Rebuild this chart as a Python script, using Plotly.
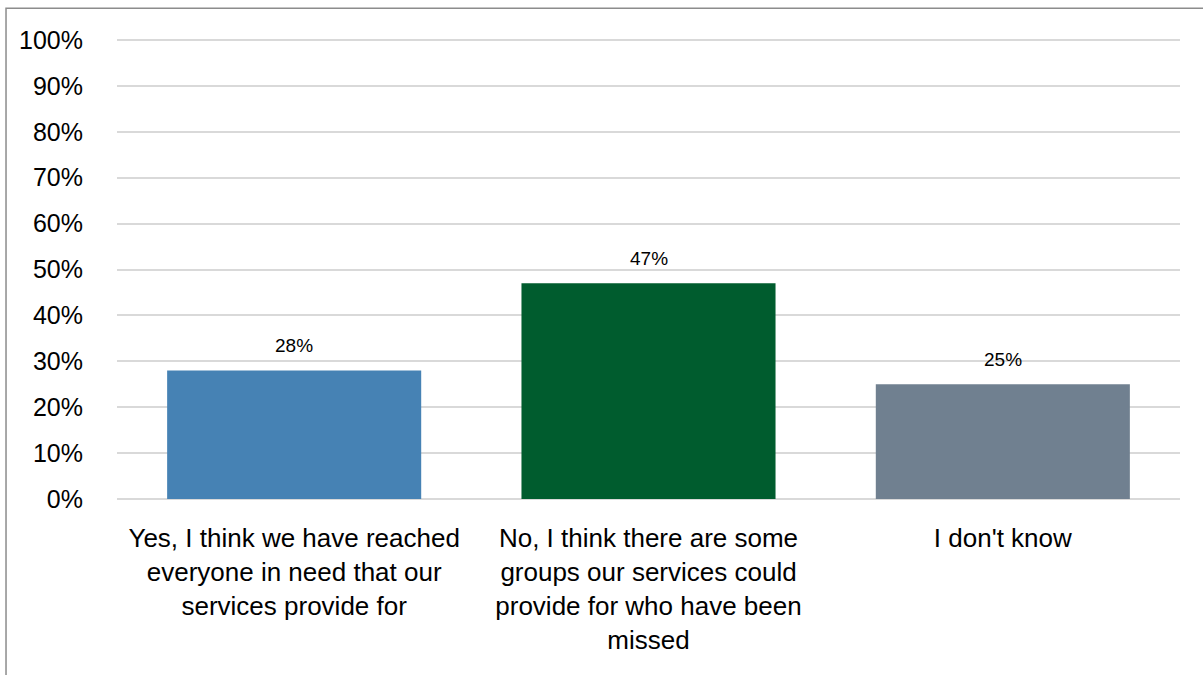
import plotly.graph_objects as go

categories = [
    "Yes, I think we have reached<br>everyone in need that our<br>services provide for",
    "No, I think there are some<br>groups our services could<br>provide for who have been<br>missed",
    "I don't know",
]
values = [28, 47, 25]
bar_colors = ["#4682B4", "#005C2E", "#708090"]
y_ticks = list(range(0, 101, 10))
y_tick_labels = [f"{v}%" for v in y_ticks]

FONT = "Liberation Sans"

fig = go.Figure(
    go.Bar(
        x=categories,
        y=values,
        marker=dict(color=bar_colors, line=dict(width=0)),
        width=0.717,
        hoverinfo="skip",
    )
)

# value labels floating above each bar
for cat, val in zip(categories, values):
    fig.add_annotation(
        x=cat,
        y=val,
        text=f"{val}%",
        showarrow=False,
        yshift=25,
        font=dict(family=FONT, size=19, color="#000000"),
    )

fig.update_layout(
    width=1203,
    height=675,
    margin=dict(l=117, r=23, t=38, b=174),
    paper_bgcolor="white",
    plot_bgcolor="white",
    showlegend=False,
    bargap=0.283,
    font=dict(family=FONT, color="#000000"),
    xaxis=dict(
        type="category",
        showgrid=False,
        showline=False,
        zeroline=False,
        tickfont=dict(family=FONT, size=26, color="#000000"),
        ticks="outside",
        ticklen=14,
        tickcolor="rgba(0,0,0,0)",
    ),
    yaxis=dict(
        range=[-0.45, 100.45],
        tickvals=y_ticks,
        ticktext=y_tick_labels,
        showgrid=True,
        gridcolor="#D9D9D9",
        gridwidth=2,
        zeroline=False,
        showline=False,
        tickfont=dict(family=FONT, size=25, color="#000000"),
        ticks="outside",
        ticklen=28,
        tickcolor="rgba(0,0,0,0)",
    ),
    shapes=[
        # chart frame
        dict(
            type="rect",
            xref="paper",
            yref="paper",
            x0=-0.1044,
            x1=1.05,
            y0=-0.45,
            y1=1.064,
            line=dict(color="#8C8C8C", width=1.5),
            fillcolor="rgba(0,0,0,0)",
            layer="below",
        )
    ],
)

fig.write_html("out.html")
